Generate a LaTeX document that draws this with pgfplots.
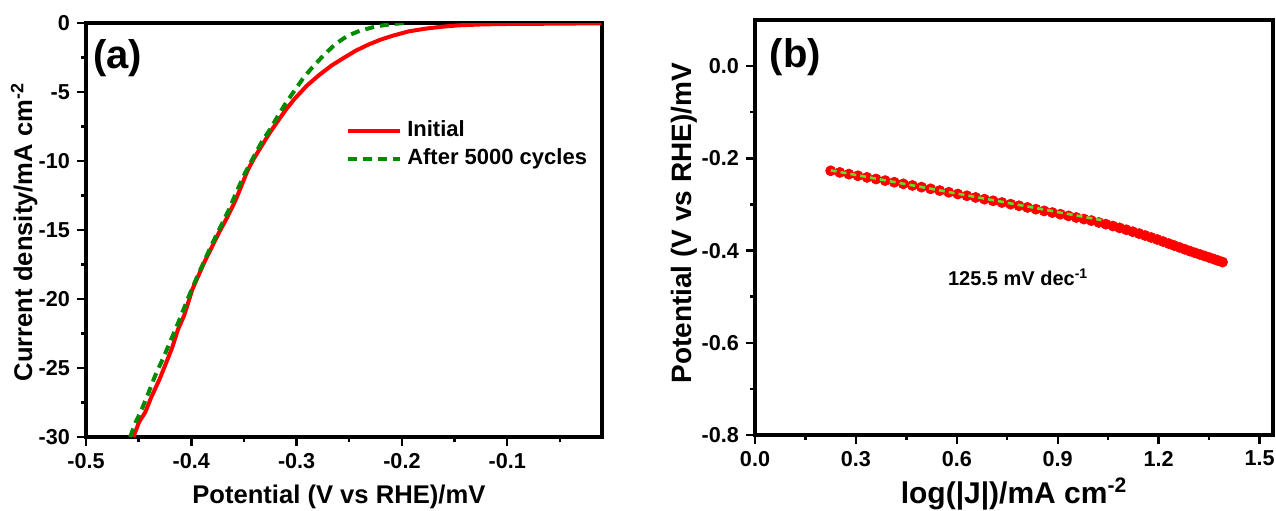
\documentclass[border=0pt]{standalone}
\usepackage{fontspec}
\setmainfont{Liberation Sans}
\usepackage{pgfplots}
\pgfplotsset{compat=1.18}
\definecolor{cred}{RGB}{255,0,0}
\definecolor{cgreen}{RGB}{0,140,0}
\definecolor{clime}{RGB}{90,225,40}
\begin{document}
\begin{tikzpicture}
\path[use as bounding box] (0,0) rectangle (638pt,255pt);
\pgfplotsset{
 common/.style={
  scale only axis,
  axis line style={line width=1.6pt},
  every tick/.style={line width=1.2pt, black},
  tick align=outside,
  major tick length=4.5pt,
  minor tick length=2.5pt,
  xtick pos=left, ytick pos=left,
  tick label style={font=\bfseries\fontsize{10.8}{12}\selectfont},
  /pgf/number format/assume math mode=true,
  label style={font=\bfseries\fontsize{12.8}{15}\selectfont},
 }
}
\begin{axis}[common, at={(43pt,36.5pt)}, anchor=south west, width=258pt, height=207pt,
 xmin=-0.5, xmax=-0.01, ymin=-30, ymax=0,
 xtick={-0.5,-0.4,-0.3,-0.2,-0.1}, ytick={-30,-25,-20,-15,-10,-5,0},
 minor xtick={-0.45,-0.35,-0.25,-0.15,-0.05},
 minor ytick={-27.5,-22.5,-17.5,-12.5,-7.5,-2.5},
 xticklabel style={/pgf/number format/.cd, fixed, precision=1},
 xlabel={Potential (V vs RHE)/mV},
 ylabel={Current density/mA cm\textsuperscript{-2}},
 xlabel style={at={(axis description cs:0.49,-0.16)}, anchor=base},
 ylabel style={at={(axis description cs:-0.12,0.495)}, anchor=center},
 legend style={at={(axis description cs:0.492,0.774)}, anchor=north west, draw=none, fill=none,
   font=\bfseries\fontsize{11}{12}\selectfont, row sep=3.5pt, column sep=2.5pt,
   nodes={inner sep=0pt, text height=8pt, text depth=2.5pt}},
 legend cell align=left,
 legend image code/.code={\draw[#1] (0pt,0pt) -- (26pt,0pt);},
]
\addplot[cred, line width=2pt] coordinates {
(-0.455,-30) (-0.4495,-28.9) (-0.4437,-28.2) (-0.4379,-27.1) (-0.4301,-25.8)
(-0.4243,-24.7) (-0.4185,-23.6) (-0.4126,-22.2) (-0.4068,-21.2) (-0.399,-19.3)
(-0.3932,-18.3) (-0.3874,-17.3) (-0.3796,-16.1) (-0.3738,-15.2) (-0.366,-14.1)
(-0.3583,-12.9) (-0.3524,-11.8) (-0.3466,-10.7) (-0.3408,-9.85) (-0.333,-8.88)
(-0.3252,-7.92) (-0.3175,-7.07) (-0.3097,-6.23) (-0.302,-5.50) (-0.2903,-4.54)
(-0.2786,-3.77) (-0.267,-3.09) (-0.2553,-2.53) (-0.2437,-2.00) (-0.232,-1.57)
(-0.2204,-1.21) (-0.2087,-0.92) (-0.1932,-0.60) (-0.1777,-0.41) (-0.1621,-0.27)
(-0.1466,-0.17) (-0.1233,-0.10) (-0.1,-0.07) (-0.0573,-0.05) (-0.0107,-0.02)
};
\addlegendentry{Initial}
\addplot[cgreen, line width=2pt, dash pattern=on 4.5pt off 3pt] coordinates {
(-0.458,-30) (-0.4534,-29.0) (-0.4476,-28.1) (-0.4417,-27.0) (-0.434,-25.5)
(-0.4262,-24.2) (-0.4184,-22.8) (-0.4107,-21.4) (-0.4029,-19.9) (-0.3951,-18.5)
(-0.3874,-17.2) (-0.3796,-15.9) (-0.3718,-14.7) (-0.3641,-13.5) (-0.3563,-12.1)
(-0.3485,-10.8) (-0.3408,-9.7) (-0.333,-8.6) (-0.3252,-7.7) (-0.3175,-6.7)
(-0.3097,-5.74) (-0.302,-4.9) (-0.2942,-4.05) (-0.2864,-3.33) (-0.2748,-2.37)
(-0.2631,-1.52) (-0.2515,-0.92) (-0.2398,-0.56) (-0.2243,-0.24) (-0.2087,-0.07)
(-0.1971,0)
};
\addlegendentry{After 5000 cycles}
\node[font=\bfseries\fontsize{20}{22}\selectfont] at (axis description cs:0.061,0.915) {(a)};
\end{axis}

\begin{axis}[common, clip marker paths=true, at={(377.5pt,37.5pt)}, anchor=south west, width=259pt, height=207.5pt,
 xmin=0, xmax=1.54, ymin=-0.8, ymax=0.1,
 xtick={0,0.3,0.6,0.9,1.2,1.5}, ytick={-0.8,-0.6,-0.4,-0.2,0},
 minor xtick={0.15,0.45,0.75,1.05,1.35},
 minor ytick={-0.7,-0.5,-0.3,-0.1},
 xticklabel style={/pgf/number format/.cd, fixed, fixed zerofill, precision=1},
 yticklabel style={/pgf/number format/.cd, fixed, fixed zerofill, precision=1},
 xlabel={log(|J|)/mA cm\textsuperscript{-2}},
 ylabel={Potential (V vs RHE)/mV},
 xlabel style={font=\bfseries\fontsize{15}{18}\selectfont, at={(axis description cs:0.5,-0.164)}, anchor=base},
 ylabel style={font=\bfseries\fontsize{14}{17}\selectfont, at={(axis description cs:-0.137,0.51)}, anchor=center},
]
\addplot[only marks, mark=*, mark size=2.5pt, mark options={fill=cred, draw=cred}] coordinates {
(0.225,-0.227) (0.252,-0.2306) (0.279,-0.2342) (0.306,-0.2378) (0.333,-0.2413)
(0.360,-0.2448) (0.387,-0.2483) (0.414,-0.2518) (0.441,-0.2553) (0.468,-0.2588)
(0.495,-0.2624) (0.522,-0.2661) (0.549,-0.2699) (0.576,-0.2736) (0.603,-0.2774)
(0.630,-0.2812) (0.656,-0.2848) (0.682,-0.2885) (0.708,-0.2921) (0.734,-0.2958)
(0.760,-0.2994) (0.785,-0.3029) (0.810,-0.3065) (0.835,-0.3103) (0.860,-0.3140)
(0.884,-0.3176) (0.908,-0.3212) (0.932,-0.3248) (0.955,-0.3283) (0.978,-0.3317)
(1.000,-0.3350) (1.022,-0.3390) (1.043,-0.3427) (1.064,-0.3468) (1.084,-0.3508)
(1.104,-0.3549) (1.123,-0.3591) (1.142,-0.3632) (1.160,-0.3674) (1.178,-0.3717)
(1.196,-0.3760) (1.213,-0.3804) (1.230,-0.3848) (1.246,-0.3890) (1.262,-0.3931)
(1.278,-0.3973) (1.293,-0.4012) (1.308,-0.4049) (1.323,-0.4085) (1.337,-0.4119)
(1.351,-0.4153) (1.364,-0.4185) (1.377,-0.4218) (1.390,-0.4250)
};
\addplot[clime, line width=1.3pt, dash pattern=on 3pt off 2pt] coordinates {(0.225,-0.226) (1.03,-0.334)};
\node[font=\bfseries\fontsize{10}{12}\selectfont] at (axis description cs:0.508,0.38) {125.5 mV dec\textsuperscript{-1}};
\node[font=\bfseries\fontsize{20}{22}\selectfont] at (axis description cs:0.078,0.91) {(b)};
\end{axis}
\end{tikzpicture}
\end{document}
